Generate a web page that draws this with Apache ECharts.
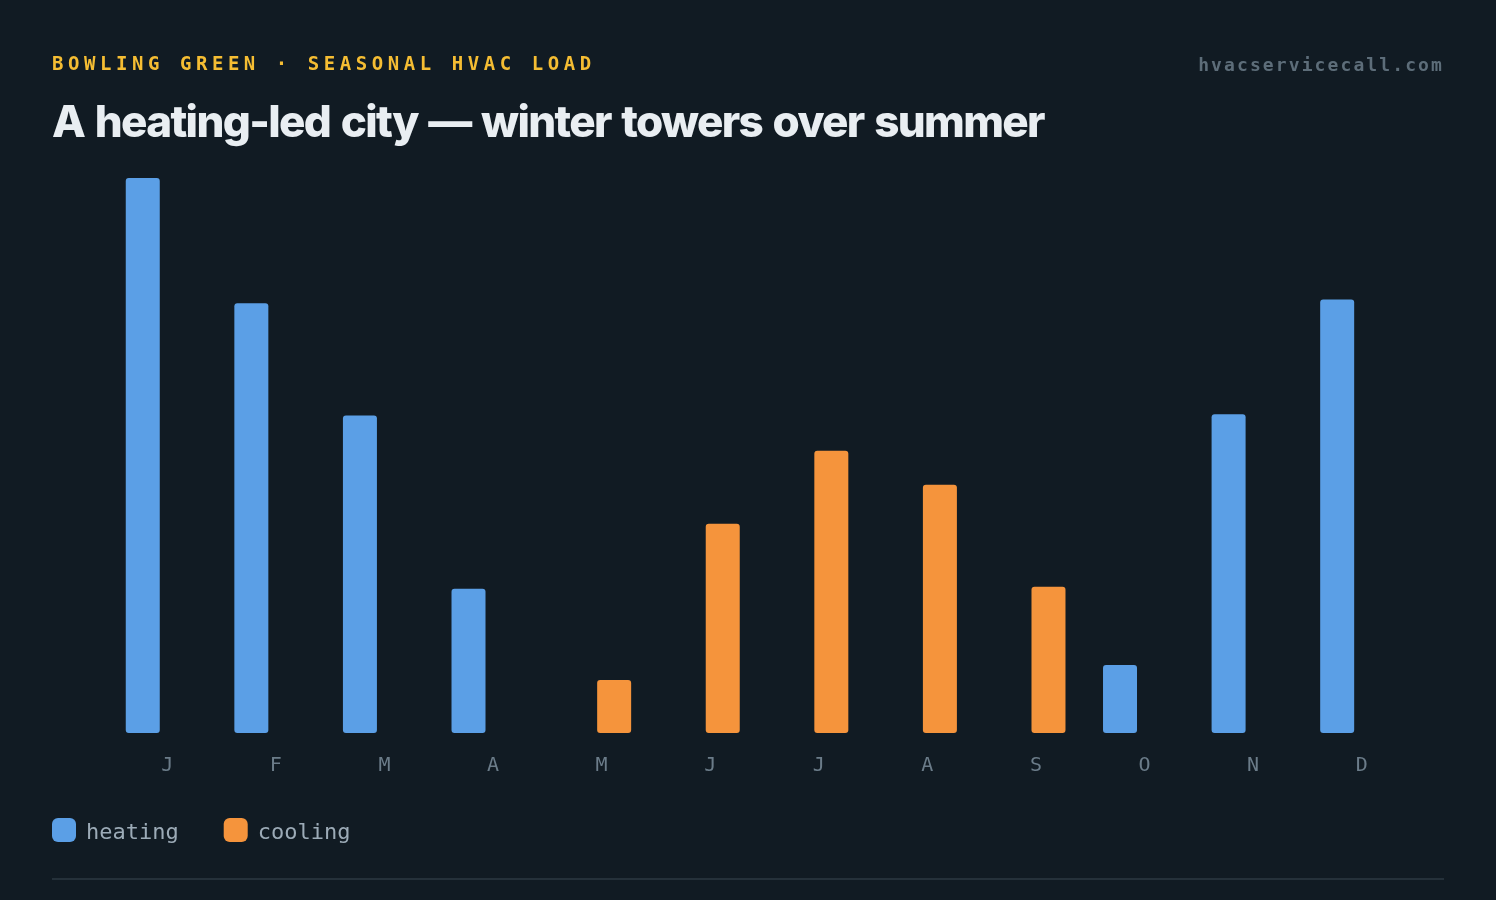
<!DOCTYPE html>
<html>
<head>
<meta charset="utf-8">
<script src="https://cdn.jsdelivr.net/npm/echarts@6/dist/echarts.min.js"></script>
<style>
  html, body { margin: 0; padding: 0; background: #111b23; }
  #wrap { position: relative; width: 1496px; height: 900px; background: #111b23; overflow: hidden; }
  #chart { position: absolute; left: 0; top: 0; width: 1496px; height: 900px; }
  .kicker { position: absolute; left: 52px; top: 50px; font-family: "DejaVu Sans Mono", monospace; font-weight: bold; font-size: 19px; letter-spacing: 4.55px; color: #f5bd33; line-height: 26px; white-space: nowrap; }
  .title { position: absolute; left: 52px; top: 92px; font-family: Inter, "Noto Sans", sans-serif; font-weight: 800; font-size: 44px; letter-spacing: -1.65px; word-spacing: 2.5px; color: #e9eef2; line-height: 58px; white-space: nowrap; }
  .site { position: absolute; right: 52px; top: 52px; font-family: "DejaVu Sans Mono", monospace; font-weight: bold; font-size: 18px; letter-spacing: 2.1px; color: #5d6d79; line-height: 26px; white-space: nowrap; }
  .rule { position: absolute; left: 52px; right: 52px; top: 878px; height: 2px; background: #25313a; }
</style>
</head>
<body>
<div id="wrap">
  <div id="chart"></div>
  <div class="kicker">BOWLING GREEN · SEASONAL HVAC LOAD</div>
  <div class="title">A heating-led city — winter towers over summer</div>
  <div class="site">hvacservicecall.com</div>
  <div class="rule"></div>
</div>
<script>
const months = ['J','F','M','A','M','J','J','A','S','O','N','D'];
const heating = [881, 682, 504, 229, 0, 0, 0, 0, 0, 108, 506, 688];
const cooling = [0, 0, 0, 0, 84, 332, 448, 394, 232, 0, 0, 0];

const chart = echarts.init(document.getElementById('chart'), null, { renderer: 'canvas' });
chart.setOption({
  backgroundColor: 'transparent',
  animation: false,
  grid: { left: 107, right: 86, top: 178, bottom: 167, containLabel: false },
  legend: {
    left: 52, top: 818, padding: 0,
    icon: 'roundRect',
    itemWidth: 24, itemHeight: 24,
    itemGap: 45,
    formatter: '{t|{name}}',
    textStyle: {
      color: '#9cabb7', fontSize: 22, fontFamily: '"DejaVu Sans Mono", monospace',
      rich: { t: { color: '#9cabb7', fontSize: 22, fontFamily: '"DejaVu Sans Mono", monospace', padding: [6, 0, 0, 5] } }
    },
    data: ['heating', 'cooling']
  },
  xAxis: {
    type: 'category',
    data: months,
    axisLine: { show: false },
    axisTick: { show: false },
    axisLabel: {
      color: '#6b7c89', fontSize: 20, fontFamily: '"DejaVu Sans Mono", monospace',
      margin: 23, padding: [0, 0, 0, 12]
    }
  },
  yAxis: {
    type: 'value', min: 0, max: 'dataMax', show: false,
    splitLine: { show: false }
  },
  series: [
    {
      name: 'heating', type: 'bar', data: heating,
      barWidth: 34, barGap: '9%',
      itemStyle: { color: '#5b9fe6', borderRadius: 3 }
    },
    {
      name: 'cooling', type: 'bar', data: cooling,
      barWidth: 34,
      itemStyle: { color: '#f5943c', borderRadius: 3 }
    }
  ]
});
</script>
</body>
</html>
